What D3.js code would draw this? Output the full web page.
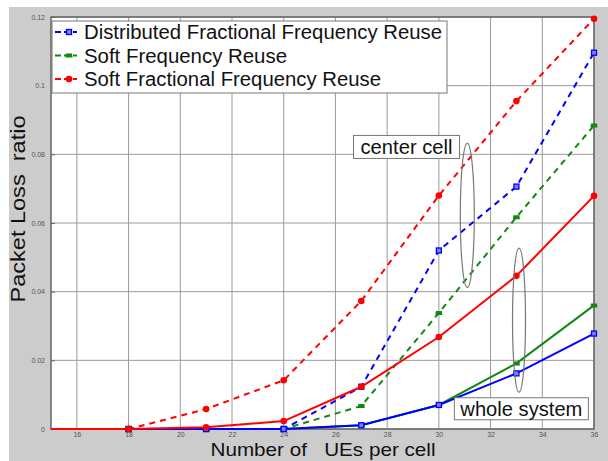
<!DOCTYPE html>
<html><head><meta charset="utf-8">
<script src="https://cdn.jsdelivr.net/npm/d3@7"></script>
<style>body{margin:0;background:#fff} text{white-space:pre}</style>
</head><body>
<svg id="chart" width="608" height="461"></svg>
<script>
const xValues = [15, 18, 21, 24, 27, 30, 33, 36];
const xTicks = [16, 18, 20, 22, 24, 26, 28, 30, 32, 34, 36];
const yTicks = [0, 0.02, 0.04, 0.06, 0.08, 0.1, 0.12];
const yTickLabels = ["0", "0.02", "0.04", "0.06", "0.08", "0.1", "0.12"];
const seriesNames = ["Distributed Fractional Frequency Reuse", "Soft Frequency Reuse", "Soft Fractional Frequency Reuse"];
const seriesColors = ["#0000ff", "#118811", "#ff0000"];
// center cell (dashed)
const dffrCenter = [0, 0, 0, 0, 0.0123, 0.052, 0.0706, 0.1096];
const sfrCenter  = [0, 0, 0, 0, 0.0067, 0.0338, 0.0617, 0.0884];
const sffrCenter = [0, 0, 0.0058, 0.0142, 0.0373, 0.068, 0.0955, 0.1195];
// whole system (solid)
const dffrWhole = [0, 0, 0, 0, 0.0011, 0.0070, 0.0162, 0.0278];
const sfrWhole  = [0, 0, 0, 0, 0.0011, 0.0070, 0.0191, 0.0360];
const sffrWhole = [0, 0, 0.0005, 0.0023, 0.0123, 0.0268, 0.0446, 0.0679];
const annotations = ["center cell", "whole system"];
const xLabel = "Number of   UEs per cell";
const yLabel = "Packet Loss  ratio";

const svg = d3.select("#chart");
const L = 51, R = 594, T = 17, B = 429;
const x = d3.scaleLinear().domain([15, 36]).range([L, R]);
const y = d3.scaleLinear().domain([0, 0.12]).range([B, T]);

svg.append("rect").attr("x", 9).attr("y", 7).attr("width", 599).attr("height", 454).attr("fill", "#cccccc");
svg.append("rect").attr("x", L).attr("y", T).attr("width", R - L).attr("height", B - T).attr("fill", "#ffffff");

// grid
const grid = svg.append("g").attr("stroke", "#9a9a9a").attr("stroke-width", 1);
xTicks.forEach(t => grid.append("line").attr("x1", x(t)).attr("x2", x(t)).attr("y1", T).attr("y2", B));
yTicks.forEach(t => grid.append("line").attr("x1", L).attr("x2", R).attr("y1", y(t)).attr("y2", y(t)));

// axes
const xAxis = d3.axisBottom(x).tickValues(xTicks).tickSize(0).tickPadding(3).tickFormat(d3.format("d"));
const gx = svg.append("g").attr("transform", `translate(0,${B})`).call(xAxis);
const yAxis = d3.axisLeft(y).tickValues(yTicks).tickSize(4).tickPadding(2).tickFormat((d, i) => yTickLabels[i]);
const gy = svg.append("g").attr("transform", `translate(${L},0)`).call(yAxis);
[gx, gy].forEach(g => {
  g.select(".domain").remove();
  g.selectAll("text").attr("font-family", "Liberation Sans, Arial, sans-serif").attr("font-size", 7).attr("fill", "#555");
  g.selectAll("line").attr("stroke", "#666");
});
gy.selectAll(".tick line").attr("x2", 4).attr("x1", 0);
svg.append("rect").attr("x", L).attr("y", T).attr("width", R - L).attr("height", B - T)
  .attr("fill", "none").attr("stroke", "#666").attr("stroke-width", 1.5);

const plot = svg.append("g");
const line = d3.line().x((d, i) => x(xValues[i])).y(d => y(d));

function marker(g, type, color, cx, cy) {
  if (type === 0) {
    g.append("rect").attr("x", cx - 2.5).attr("y", cy - 2.5).attr("width", 5).attr("height", 5)
      .attr("fill", "#8080ff").attr("stroke", color).attr("stroke-width", 1.3);
  } else if (type === 1) {
    g.append("path").attr("d", `M${cx - 3.5},${cy + 2}L${cx + 3.5},${cy + 2}L${cx + 3},${cy - 2}L${cx - 3},${cy - 2}Z`).attr("fill", color);
  } else {
    g.append("circle").attr("cx", cx).attr("cy", cy).attr("r", 3.3).attr("fill", color);
  }
}

const dashed = [dffrCenter, sfrCenter, sffrCenter];
const solid = [dffrWhole, sfrWhole, sffrWhole];
const drawOrder = [1, 0, 2];
drawOrder.forEach(k => {
  plot.append("path").datum(dashed[k]).attr("d", line).attr("fill", "none")
    .attr("stroke", seriesColors[k]).attr("stroke-width", 2).attr("stroke-dasharray", "6,5");
  dashed[k].forEach((v, i) => { if (xValues[i] >= 18) marker(plot, k, seriesColors[k], x(xValues[i]), y(v)); });
});
drawOrder.forEach(k => {
  plot.append("path").datum(solid[k]).attr("d", line).attr("fill", "none")
    .attr("stroke", seriesColors[k]).attr("stroke-width", 2);
  solid[k].forEach((v, i) => { if (xValues[i] >= 18) marker(plot, k, seriesColors[k], x(xValues[i]), y(v)); });
});

// annotations
const font = "Liberation Sans, Arial, Helvetica, sans-serif";
function box(label, bx, by, w, h, tw) {
  svg.append("rect").attr("x", bx).attr("y", by).attr("width", w).attr("height", h)
    .attr("fill", "#fff").attr("stroke", "#777").attr("stroke-width", 1);
  svg.append("text").attr("x", bx + w / 2).attr("y", by + h / 2 + 7).attr("text-anchor", "middle")
    .attr("font-family", font).attr("font-size", 20).attr("fill", "#111")
    .attr("textLength", tw).attr("lengthAdjust", "spacingAndGlyphs").text(label);
}
box(annotations[0], x(26.7), y(0.0855), 106, 23, 92);
box(annotations[1], x(30.6), y(0.0091), 134, 22, 122);
svg.append("ellipse").attr("cx", x(31.1)).attr("cy", y(0.0622)).attr("rx", 7).attr("ry", 72)
  .attr("fill", "none").attr("stroke", "#777").attr("stroke-width", 1.2);
svg.append("ellipse").attr("cx", x(33.1)).attr("cy", y(0.0317)).attr("rx", 6.5).attr("ry", 72)
  .attr("fill", "none").attr("stroke", "#777").attr("stroke-width", 1.2);

// legend
const legendWidths = [358, 203, 297];
const lg = svg.append("g");
lg.append("rect").attr("x", 52).attr("y", 21).attr("width", 395).attr("height", 72)
  .attr("fill", "#fff").attr("stroke", "#777").attr("stroke-width", 1);
seriesNames.forEach((n, k) => {
  const cy = 32 + k * 23.5;
  lg.append("line").attr("x1", 55).attr("x2", 77).attr("y1", cy).attr("y2", cy)
    .attr("stroke", seriesColors[k]).attr("stroke-width", 2).attr("stroke-dasharray", "6,3");
  marker(lg, k, seriesColors[k], 69, cy);
  lg.append("text").attr("x", 84).attr("y", cy + 7).attr("font-family", font).attr("font-size", 20)
    .attr("fill", "#111").attr("textLength", legendWidths[k]).attr("lengthAdjust", "spacingAndGlyphs").text(n);
});

// axis labels
svg.append("text").attr("x", 323).attr("y", 456).attr("text-anchor", "middle")
  .attr("font-family", font).attr("font-size", 19).attr("fill", "#111")
  .attr("textLength", 225).attr("lengthAdjust", "spacingAndGlyphs").text(xLabel);
svg.append("text").attr("transform", "translate(25,209) rotate(-90)").attr("text-anchor", "middle")
  .attr("font-family", font).attr("font-size", 20.5).attr("fill", "#111")
  .attr("textLength", 187).attr("lengthAdjust", "spacingAndGlyphs").text(yLabel);
</script>
</body></html>
